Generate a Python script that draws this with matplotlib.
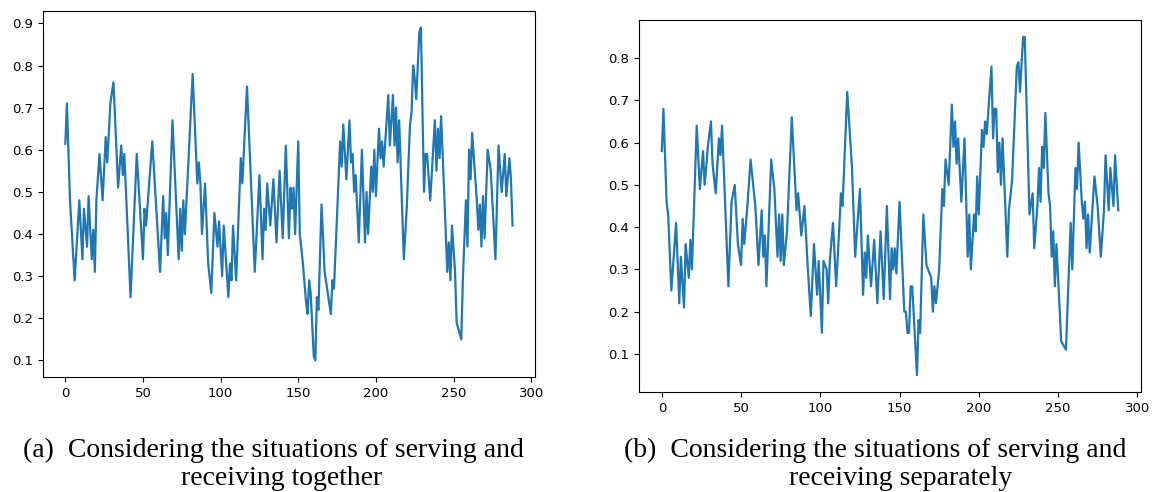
import matplotlib
matplotlib.use("Agg")
import matplotlib.pyplot as plt

# (a) serving and receiving together -- vertices
x_a = [0, 1, 3, 6, 9, 11, 12, 14, 15, 17, 18, 19, 20, 22, 24, 26, 27, 29, 31, 34,
       36, 37, 38, 42, 46, 50, 51, 52, 56, 61, 63, 64, 65, 66, 69, 73, 74, 75, 76, 77,
       82, 85, 86, 87, 88, 90, 92, 94, 96, 98, 99, 101, 102, 105, 106, 107, 108, 110, 113, 114,
       117, 122, 125, 127, 128, 129, 130, 132, 134, 136, 138, 140, 142, 144, 145, 146, 147, 148, 150, 151,
       153, 155, 156, 157, 158, 160, 161, 162, 163, 165, 167, 171, 172, 173, 177, 178, 179, 181, 183, 184,
       185, 186, 187, 189, 191, 193, 194, 195, 197, 198, 199, 200, 202, 203, 204, 205, 208, 209, 211, 212,
       213, 214, 215, 218, 220, 221, 222, 223, 224, 225, 226, 228, 229, 231, 232, 233, 235, 238, 239, 240,
       241, 242, 243, 246, 247, 248, 249, 251, 252, 255, 256, 258, 259, 260, 261, 262, 265, 266, 267, 268,
       269, 270, 272, 274, 277, 279, 281, 283, 284, 286, 287, 288]
y_a = [0.614, 0.71, 0.48, 0.29, 0.48, 0.34, 0.46, 0.37, 0.49, 0.34, 0.41, 0.31, 0.48, 0.59, 0.48, 0.63, 0.57, 0.71, 0.76, 0.51,
       0.61, 0.54, 0.59, 0.25, 0.59, 0.34, 0.46, 0.42, 0.62, 0.31, 0.49, 0.39, 0.45, 0.35, 0.67, 0.34, 0.46, 0.36, 0.48, 0.40,
       0.78, 0.52, 0.57, 0.52, 0.40, 0.52, 0.33, 0.26, 0.45, 0.37, 0.43, 0.30, 0.42, 0.25, 0.33, 0.29, 0.42, 0.29, 0.58, 0.52,
       0.75, 0.31, 0.54, 0.34, 0.46, 0.41, 0.52, 0.42, 0.53, 0.38, 0.55, 0.39, 0.61, 0.39, 0.51, 0.46, 0.51, 0.40, 0.62, 0.40,
       0.33, 0.24, 0.21, 0.29, 0.26, 0.11, 0.10, 0.25, 0.22, 0.47, 0.31, 0.21, 0.29, 0.27, 0.62, 0.56, 0.66, 0.53, 0.67, 0.57,
       0.59, 0.50, 0.54, 0.38, 0.60, 0.38, 0.50, 0.40, 0.56, 0.50, 0.60, 0.49, 0.65, 0.58, 0.62, 0.56, 0.73, 0.61, 0.73, 0.61,
       0.70, 0.57, 0.67, 0.34, 0.47, 0.57, 0.66, 0.69, 0.80, 0.77, 0.72, 0.88, 0.89, 0.50, 0.59, 0.59, 0.48, 0.67, 0.55, 0.65,
       0.58, 0.68, 0.59, 0.31, 0.38, 0.29, 0.42, 0.31, 0.19, 0.15, 0.29, 0.48, 0.37, 0.60, 0.53, 0.64, 0.48, 0.41, 0.47, 0.37,
       0.49, 0.39, 0.60, 0.55, 0.34, 0.61, 0.50, 0.59, 0.49, 0.58, 0.53, 0.42]

# (b) serving and receiving separately
x_b = [0, 1, 3, 4, 6, 9, 11, 12, 14, 15, 17, 18, 19, 22, 24, 26, 27, 28, 29, 31,
       32, 34, 36, 37, 38, 42, 44, 46, 48, 50, 51, 52, 54, 56, 59, 61, 63, 64, 65, 66,
       69, 71, 73, 74, 75, 76, 77, 79, 82, 85, 86, 88, 90, 92, 94, 96, 98, 99, 101, 102,
       104, 105, 106, 108, 110, 112, 113, 114, 117, 120, 122, 125, 127, 128, 129, 130, 132, 134, 136, 138,
       140, 142, 144, 145, 146, 147, 148, 150, 153, 154, 155, 156, 157, 158, 161, 162, 163, 165, 167, 170,
       171, 172, 173, 175, 177, 178, 179, 181, 183, 184, 185, 186, 187, 189, 191, 193, 194, 195, 197, 198,
       199, 200, 202, 203, 204, 205, 208, 209, 210, 211, 212, 213, 214, 215, 218, 219, 221, 224, 225, 226,
       228, 229, 232, 234, 235, 237, 238, 239, 240, 241, 242, 244, 245, 246, 247, 248, 249, 252, 255, 258,
       259, 261, 262, 263, 265, 266, 267, 268, 269, 270, 273, 275, 277, 279, 280, 282, 283, 285, 286, 288]
y_b = [0.58, 0.68, 0.46, 0.43, 0.25, 0.41, 0.22, 0.33, 0.21, 0.36, 0.28, 0.37, 0.30, 0.64, 0.49, 0.58, 0.50, 0.54, 0.59, 0.65,
       0.55, 0.48, 0.61, 0.57, 0.64, 0.26, 0.46, 0.50, 0.36, 0.31, 0.42, 0.36, 0.45, 0.56, 0.45, 0.31, 0.44, 0.33, 0.38, 0.26,
       0.56, 0.49, 0.33, 0.43, 0.32, 0.43, 0.31, 0.39, 0.66, 0.44, 0.48, 0.38, 0.45, 0.31, 0.19, 0.36, 0.24, 0.32, 0.15, 0.32,
       0.30, 0.22, 0.32, 0.41, 0.26, 0.40, 0.48, 0.45, 0.72, 0.54, 0.33, 0.49, 0.24, 0.34, 0.28, 0.38, 0.26, 0.37, 0.22, 0.39,
       0.23, 0.45, 0.23, 0.35, 0.30, 0.35, 0.29, 0.46, 0.20, 0.20, 0.15, 0.15, 0.26, 0.26, 0.05, 0.18, 0.15, 0.43, 0.31, 0.28,
       0.20, 0.26, 0.22, 0.30, 0.49, 0.45, 0.56, 0.50, 0.69, 0.59, 0.65, 0.55, 0.61, 0.46, 0.61, 0.33, 0.43, 0.30, 0.43, 0.39,
       0.52, 0.43, 0.63, 0.59, 0.65, 0.62, 0.78, 0.61, 0.68, 0.68, 0.53, 0.60, 0.50, 0.61, 0.33, 0.44, 0.51, 0.78, 0.79, 0.72,
       0.85, 0.85, 0.43, 0.48, 0.35, 0.45, 0.54, 0.46, 0.59, 0.54, 0.67, 0.48, 0.45, 0.33, 0.39, 0.26, 0.36, 0.13, 0.11, 0.41,
       0.30, 0.54, 0.49, 0.60, 0.46, 0.42, 0.46, 0.35, 0.43, 0.34, 0.52, 0.45, 0.33, 0.44, 0.57, 0.44, 0.54, 0.45, 0.57, 0.44]

captions = [
    ("(a)  Considering the situations of serving and", "receiving together"),
    ("(b)  Considering the situations of serving and", "receiving separately"),
]

fig = plt.figure(figsize=(11.52, 4.92), dpi=100)

ax1 = fig.add_axes([0.0373, 0.2337, 0.427, 0.744])
ax2 = fig.add_axes([0.5547, 0.2033, 0.4358, 0.756])

for ax, xs, ys in [(ax1, x_a, y_a), (ax2, x_b, y_b)]:
    ax.plot(xs, ys, color="#1f77b4", linewidth=1.6)
    ax.set_xticks([0, 50, 100, 150, 200, 250, 300])
    ax.tick_params(labelsize=9.5)

ax1.set_yticks([0.1, 0.2, 0.3, 0.4, 0.5, 0.6, 0.7, 0.8, 0.9])
ax2.set_yticks([0.1, 0.2, 0.3, 0.4, 0.5, 0.6, 0.7, 0.8])

# captions under each panel (Times-like serif)
serif = ["Liberation Serif", "DejaVu Serif"]
fig.text(273 / 1152, 1 - 457 / 492, captions[0][0], ha="center", va="baseline",
         family=serif, fontsize=20)
fig.text(282 / 1152, 1 - 485 / 492, captions[0][1], ha="center", va="baseline",
         family=serif, fontsize=20)
fig.text(875 / 1152, 1 - 457 / 492, captions[1][0], ha="center", va="baseline",
         family=serif, fontsize=20)
fig.text(901 / 1152, 1 - 485 / 492, captions[1][1], ha="center", va="baseline",
         family=serif, fontsize=20)

fig.savefig("out.png", dpi=100)
